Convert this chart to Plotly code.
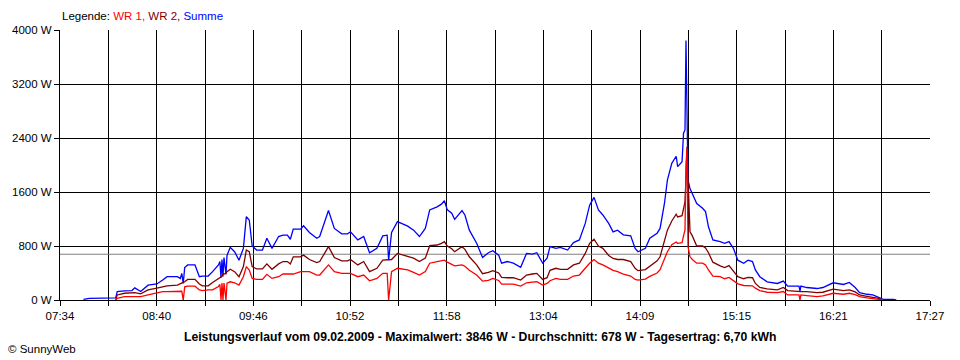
import plotly.graph_objects as go

# ---------------- data ----------------
x_start = "07:34"
x_end = "17:27"
n_intervals = 18
tick_labels = ["07:34", "08:40", "09:46", "10:52", "11:58", "13:04", "14:09", "15:15", "16:21", "17:27"]
y_ticks = [0, 800, 1600, 2400, 3200, 4000]
average_w = 678

times = ["07:50","07:54","08:12","08:13","08:18","08:23","08:25","08:29","08:34","08:40","08:44","08:47",
         "08:54","08:56","08:57","08:58","08:59","09:01","09:06","09:09","09:11","09:15","09:18","09:22",
         "09:23","09:23:44","09:24:25","09:25:05","09:25:47","09:27:09","09:27:50","09:30","09:33","09:36",
         "09:39","09:41","09:43","09:45","09:48","09:52","09:55","09:58:30","10:03","10:06","10:09","10:11",
         "10:13","10:18","10:20","10:24","10:29","10:31","10:37","10:41","10:46","10:50","10:52","10:57",
         "11:01","11:05","11:10","11:14","11:17","11:18","11:20","11:24","11:31","11:35","11:39","11:43",
         "11:46","11:51","11:54","11:56","11:58","12:01","12:03","12:08","12:10","12:13","12:18","12:22",
         "12:26","12:29","12:33","12:35","12:39","12:43","12:48","12:52","12:56","12:59","13:03","13:06",
         "13:08","13:12","13:15","13:20","13:24","13:28","13:32","13:35","13:38","13:41","13:44","13:48",
         "13:51","13:54","13:58","14:03","14:06","14:08","14:13","14:16","14:21","14:23","14:26","14:28",
         "14:31","14:34","14:35","14:38","14:39","14:40","14:40:41","14:41:22","14:42:03","14:43:25","14:45",
         "14:48","14:52","14:54","14:56","14:59","15:04","15:07","15:10","15:13","15:16","15:20","15:23",
         "15:26","15:28","15:31","15:36","15:43","15:47","15:50","15:56","15:57:42","15:58:23","15:59",
         "16:03","16:10","16:14","16:21","16:28","16:32","16:36","16:39","16:44","16:48","16:52","16:55",
         "17:02","17:04"]

summe = [10,25,30,125,135,140,180,125,220,237,295,345,
         345,320,395,245,480,520,520,345,355,355,420,520,
         570,330,600,350,630,380,660,780,715,590,
         765,1235,1185,800,740,740,915,765,940,960,960,900,
         1050,1050,1100,1000,915,940,1325,1060,980,980,1010,890,
         940,700,765,950,960,590,1000,1160,1095,1035,940,1060,
         1335,1380,1420,1470,1335,1285,1195,1325,1260,1035,840,630,
         700,730,665,545,570,545,485,690,680,700,545,620,
         790,765,780,740,850,890,1135,1405,1520,1335,1260,1135,
         1010,1035,965,950,765,715,765,915,990,1060,1430,1775,
         2025,2130,1975,2050,2470,2520,3846,3060,1780,1650,1580,
         1430,1360,1310,1085,890,865,840,865,765,590,545,590,
         570,445,345,270,245,280,205,205,205,130,205,
         185,170,185,255,230,260,185,110,85,75,40,10,
         10,0]

wr2 = [None,None,0,75,100,100,110,90,150,175,200,210,
       220,245,260,260,270,305,305,237,210,210,260,310,
       330,330,350,385,385,400,420,455,420,345,
       495,740,715,495,460,460,535,455,535,570,570,535,
       640,640,665,600,555,570,790,630,580,580,600,520,
       570,420,470,590,590,590,600,690,640,620,570,620,
       805,815,840,865,800,760,715,790,750,640,520,390,
       410,435,400,335,330,330,295,370,385,395,305,330,
       440,470,455,455,520,545,690,840,900,800,765,660,
       615,600,600,570,470,435,450,500,580,640,900,1035,
       1170,1270,1230,1250,1350,1455,1800,2270,1825,1010,950,
       800,800,770,700,560,505,480,510,420,345,315,335,
       330,245,185,165,150,185,140,125,125,125,125,
       125,110,115,160,140,150,120,75,55,45,25,0,
       None,None]

wr1 = [None,None,0,25,50,50,50,50,75,100,125,125,
       125,125,130,0,195,205,205,150,140,150,150,200,
       230,0,250,0,250,0,250,270,255,220,
       345,495,445,320,305,305,380,320,345,385,385,385,
       385,420,420,420,370,370,520,420,395,395,395,345,
       370,285,320,395,395,0,420,470,445,410,370,420,
       545,570,580,590,560,530,505,520,500,440,370,280,
       290,320,290,235,235,235,205,255,265,270,220,245,
       285,320,305,305,355,370,470,545,600,545,520,470,
       440,420,385,355,305,295,310,350,400,450,620,715,
       820,860,840,850,950,1035,2000,2245,790,640,600,
       545,545,520,445,355,345,315,335,290,240,215,215,
       210,175,140,115,110,125,75,75,75,0,75,
       65,50,60,100,85,100,80,50,30,25,10,0,
       None,None]

title_text = ("Leistungsverlauf vom 09.02.2009 - Maximalwert: 3846 W - "
              "Durchschnitt: 678 W - Tagesertrag: 6,70 kWh")


def to_min(s):
    p = s.split(":")
    sec = int(p[2]) if len(p) > 2 else 0
    return int(p[0]) * 60 + int(p[1]) + sec / 60.0


xs = [to_min(t) for t in times]
x0, x1 = to_min(x_start), to_min(x_end)
step = (x1 - x0) / n_intervals
tickvals = [x0 + k * step for k in range(n_intervals + 1)]
ticktext = [tick_labels[k // 2] if k % 2 == 0 else "" for k in range(n_intervals + 1)]

FONT = "Liberation Sans, Arial, sans-serif"

fig = go.Figure()
fig.add_trace(go.Scatter(x=[x0, x1], y=[average_w, average_w], mode="lines",
                         line=dict(color="#808080", width=1.2), hoverinfo="skip", showlegend=False))
fig.add_trace(go.Scatter(x=xs, y=summe, mode="lines", name="Summe",
                         line=dict(color="#0000FF", width=1.3), connectgaps=False, showlegend=False))
fig.add_trace(go.Scatter(x=xs, y=wr2, mode="lines", name="WR 2",
                         line=dict(color="#800000", width=1.3), connectgaps=False, showlegend=False))
fig.add_trace(go.Scatter(x=xs, y=wr1, mode="lines", name="WR 1",
                         line=dict(color="#FF0000", width=1.3), connectgaps=False, showlegend=False))

fig.update_xaxes(range=[x0, x1], tickvals=tickvals, ticktext=ticktext,
                 showgrid=True, gridcolor="black", gridwidth=1,
                 showline=True, linecolor="black", linewidth=1,
                 ticks="outside", ticklen=5, tickcolor="black", zeroline=False,
                 tickfont=dict(family=FONT, size=11.5, color="black"))
fig.update_yaxes(range=[0, 4000], tickvals=y_ticks, ticktext=[f"{v} W" for v in y_ticks],
                 showgrid=True, gridcolor="black", gridwidth=1,
                 showline=True, linecolor="black", linewidth=1,
                 ticks="outside", ticklen=5, tickcolor="black", zeroline=False,
                 tickfont=dict(family=FONT, size=11.5, color="black"))

fig.add_annotation(
    xref="paper", yref="paper", x=0, y=1.052, xanchor="left", yanchor="middle", showarrow=False,
    text=('<span style="color:black">Legende: </span>'
          '<span style="color:#FF0000">WR 1, </span>'
          '<span style="color:#800000">WR 2, </span>'
          '<span style="color:#0000FF">Summe</span>'),
    font=dict(family=FONT, size=11.5))
fig.add_annotation(
    xref="paper", yref="paper", x=0.483, y=-0.137, xanchor="center", yanchor="middle", showarrow=False,
    text="<b>" + title_text + "</b>", font=dict(family=FONT, size=12.2, color="black"))
fig.add_annotation(
    xref="paper", yref="paper", x=-0.062, y=-0.181, xanchor="left", yanchor="middle", showarrow=False,
    text="© SunnyWeb", font=dict(family=FONT, size=11.5, color="black"))

# the page adds an 8 px body margin, so the margins are reduced accordingly
fig.update_layout(width=960, height=360, margin=dict(l=52, r=38, t=22, b=68, autoexpand=False),
                  paper_bgcolor="white", plot_bgcolor="white", showlegend=False)

fig.write_html("out.html")
